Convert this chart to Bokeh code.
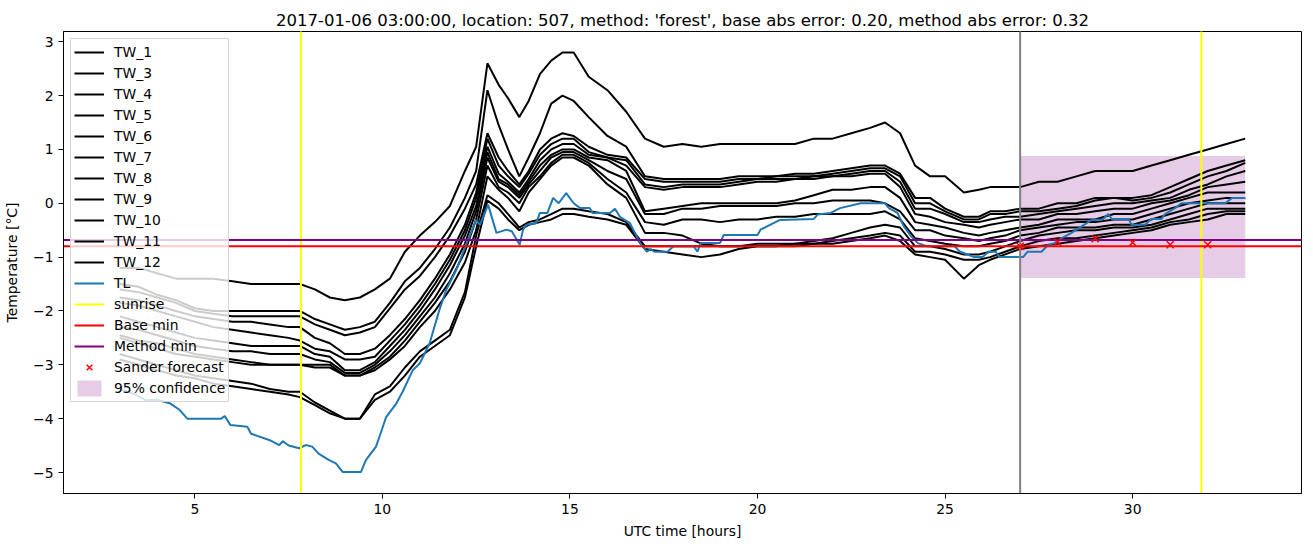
from bokeh.plotting import figure
from bokeh.models import Range1d, FixedTicker, Legend, LegendItem
from bokeh.embed import file_html
from bokeh.resources import INLINE

TITLE = "2017-01-06 03:00:00, location: 507, method: 'forest', base abs error: 0.20, method abs error: 0.32"

hours = [3, 3.5, 4, 4.5, 5, 5.5, 6, 6.5, 7, 7.5,
         7.8, 8.2, 8.6, 9, 9.4, 9.8, 10.2, 10.6, 11, 11.4,
         11.8, 12.2, 12.5, 12.8, 13.1, 13.35, 13.65, 13.9, 14.2, 14.5,
         14.8, 15.1, 15.5, 16, 16.5, 17, 17.5, 18, 18.5, 19,
         19.5, 20, 20.5, 21, 21.5, 22, 22.5, 23, 23.4, 23.8,
         24.2, 24.6, 25, 25.5, 25.9, 26.2, 26.6, 27, 27.5, 28,
         28.5, 29, 29.5, 30, 30.5, 31, 31.5, 32, 32.5, 33]

TW_1 = [-1.2, -1.2, -1.3, -1.4, -1.4, -1.4, -1.45, -1.5, -1.5, -1.5,
        -1.5, -1.6, -1.75, -1.8, -1.75, -1.6, -1.4, -0.9, -0.6, -0.35,
        -0.05, 0.6, 1.05, 2.6, 2.2, 1.95, 1.6, 1.9, 2.4, 2.65,
        2.8, 2.8, 2.35, 2.1, 1.7, 1.2, 1.05, 1.1, 1.05, 1.1,
        1.1, 1.1, 1.1, 1.1, 1.2, 1.2, 1.3, 1.4, 1.5, 1.3,
        0.7, 0.5, 0.5, 0.2, 0.25, 0.3, 0.3, 0.3, 0.4, 0.4,
        0.5, 0.6, 0.6, 0.6, 0.7, 0.8, 0.9, 1.0, 1.1, 1.2]
TW_3 = [-1.5, -1.55, -1.7, -1.8, -1.95, -2.0, -2.0, -2.0, -2.0, -2.0,
        -2.0, -2.15, -2.25, -2.35, -2.3, -2.2, -1.85, -1.45, -1.2, -0.85,
        -0.45, 0.1, 0.6, 2.1, 1.45, 1.0, 0.5, 0.85, 1.3, 1.85,
        2.0, 1.9, 1.6, 1.25, 1.05, 0.5, 0.45, 0.45, 0.45, 0.45,
        0.5, 0.5, 0.5, 0.55, 0.55, 0.6, 0.65, 0.7, 0.7, 0.55,
        0.1, 0.1, -0.1, -0.25, -0.25, -0.15, -0.15, -0.1, -0.1, 0.0,
        0.0, 0.1, 0.1, 0.1, 0.15, 0.3, 0.45, 0.6, 0.7, 0.8]
TW_4 = [-1.6, -1.65, -1.75, -1.85, -2.0, -2.05, -2.1, -2.1, -2.1, -2.1,
        -2.1, -2.25, -2.35, -2.45, -2.4, -2.3, -1.95, -1.6, -1.35, -1.0,
        -0.6, -0.1, 0.35, 1.3, 0.85, 0.6, 0.35, 0.6, 1.0, 1.2,
        1.3, 1.25, 1.05, 0.9, 0.85, 0.45, 0.4, 0.4, 0.4, 0.4,
        0.45, 0.45, 0.5, 0.5, 0.5, 0.55, 0.6, 0.65, 0.65, 0.5,
        0.0, 0.0, -0.15, -0.3, -0.3, -0.2, -0.2, -0.15, -0.15, -0.1,
        -0.05, 0.05, 0.1, 0.05, 0.1, 0.2, 0.35, 0.5, 0.6, 0.75]
TW_5 = [-1.75, -1.8, -1.9, -2.0, -2.1, -2.15, -2.2, -2.2, -2.25, -2.3,
        -2.3, -2.5, -2.6, -2.8, -2.8, -2.7, -2.45, -2.15, -1.8, -1.4,
        -0.95, -0.4, 0.2, 1.2, 0.7, 0.5, 0.3, 0.55, 0.9, 1.1,
        1.2, 1.2, 0.95, 0.85, 0.8, 0.35, 0.3, 0.35, 0.35, 0.35,
        0.4, 0.45, 0.45, 0.45, 0.5, 0.5, 0.55, 0.6, 0.6, 0.4,
        -0.1, -0.1, -0.2, -0.35, -0.35, -0.3, -0.25, -0.25, -0.2, -0.15,
        -0.1, -0.05, 0.0, 0.0, 0.05, 0.1, 0.25, 0.35, 0.5, 0.6]
TW_6 = [-1.85, -1.9, -2.0, -2.1, -2.2, -2.3, -2.35, -2.4, -2.45, -2.5,
        -2.55, -2.7, -2.75, -2.9, -2.9, -2.85, -2.55, -2.25, -1.9, -1.5,
        -1.05, -0.5, 0.1, 1.05, 0.55, 0.4, 0.2, 0.45, 0.8, 1.0,
        1.1, 1.1, 0.9, 0.85, 0.7, 0.3, 0.25, 0.3, 0.3, 0.3,
        0.35, 0.4, 0.4, 0.45, 0.45, 0.5, 0.5, 0.55, 0.55, 0.3,
        -0.2, -0.25, -0.35, -0.4, -0.45, -0.4, -0.35, -0.3, -0.3, -0.2,
        -0.2, -0.15, -0.1, -0.1, 0.0, 0.05, 0.15, 0.3, 0.35, 0.4]
TW_7 = [-2.1, -2.2, -2.3, -2.4, -2.5, -2.55, -2.6, -2.65, -2.65, -2.65,
        -2.65, -2.8, -2.85, -3.1, -3.1, -2.95, -2.65, -2.35, -2.0, -1.6,
        -1.15, -0.6, -0.05, 0.95, 0.45, 0.35, 0.15, 0.4, 0.7, 0.9,
        1.0, 1.0, 0.85, 0.8, 0.6, -0.15, -0.1, -0.05, 0.0, 0.0,
        0.0, 0.0, 0.0, 0.05, 0.15, 0.25, 0.25, 0.3, 0.3, 0.1,
        -0.35, -0.4, -0.45, -0.55, -0.6, -0.55, -0.5, -0.45, -0.4, -0.3,
        -0.3, -0.3, -0.2, -0.2, -0.1, 0.0, 0.1, 0.2, 0.2, 0.2]
TW_8 = [-2.3, -2.35, -2.45, -2.55, -2.65, -2.7, -2.75, -2.75, -2.8, -2.8,
        -2.8, -2.9, -2.95, -3.15, -3.15, -3.0, -2.75, -2.45, -2.1, -1.75,
        -1.3, -0.75, -0.15, 0.85, 0.4, 0.3, 0.1, 0.35, 0.6, 0.85,
        0.95, 0.95, 0.8, 0.6, 0.45, -0.2, -0.2, -0.1, -0.1, -0.05,
        -0.05, -0.05, -0.05, 0.0, 0.0, 0.05, 0.05, 0.05, 0.0, -0.15,
        -0.5, -0.5, -0.6, -0.65, -0.7, -0.65, -0.6, -0.5, -0.45, -0.4,
        -0.35, -0.35, -0.3, -0.3, -0.2, -0.1, 0.0, 0.05, 0.1, 0.1]
TW_9 = [-2.45, -2.55, -2.6, -2.7, -2.8, -2.85, -2.9, -2.95, -3.0, -3.0,
        -3.0, -3.0, -3.0, -3.2, -3.2, -3.05, -2.85, -2.55, -2.2, -1.85,
        -1.45, -0.9, -0.3, 0.7, 0.3, 0.2, 0.0, 0.3, 0.5, 0.75,
        0.9, 0.9, 0.75, 0.45, 0.2, -0.35, -0.4, -0.3, -0.3, -0.35,
        -0.3, -0.3, -0.25, -0.25, -0.2, -0.2, -0.2, -0.2, -0.15, -0.3,
        -0.65, -0.7, -0.75, -0.8, -0.8, -0.75, -0.7, -0.6, -0.55, -0.45,
        -0.45, -0.45, -0.4, -0.4, -0.3, -0.2, -0.1, 0.0, 0.0, 0.0]
TW_10 = [-2.5, -2.6, -2.7, -2.8, -2.85, -2.9, -2.95, -3.0, -3.0, -3.0,
         -3.0, -3.05, -3.05, -3.2, -3.2, -3.1, -2.9, -2.65, -2.3, -2.0,
         -1.6, -1.1, -0.5, 0.5, 0.25, 0.1, -0.15, 0.2, 0.45, 0.7,
         0.85, 0.85, 0.7, 0.35, 0.1, -0.55, -0.55, -0.6, -0.75, -0.8,
         -0.8, -0.75, -0.75, -0.75, -0.7, -0.65, -0.55, -0.45, -0.4, -0.45,
         -0.8, -0.8, -0.85, -0.95, -0.95, -0.9, -0.8, -0.7, -0.6, -0.55,
         -0.5, -0.5, -0.45, -0.45, -0.4, -0.3, -0.2, -0.1, -0.1, -0.1]
TW_11 = [-2.8, -2.9, -3.0, -3.1, -3.2, -3.25, -3.3, -3.35, -3.45, -3.5,
         -3.5, -3.7, -3.85, -4.0, -4.0, -3.55, -3.4, -3.05, -2.75, -2.55,
         -2.35, -1.65, -0.6, 0.15, 0.0, -0.2, -0.45, -0.35, -0.3, -0.2,
         -0.1, -0.1, -0.15, -0.2, -0.35, -0.8, -0.8, -0.8, -0.8, -0.8,
         -0.8, -0.8, -0.8, -0.75, -0.75, -0.7, -0.65, -0.6, -0.55, -0.6,
         -0.9, -0.9, -0.95, -1.05, -1.05, -1.0, -0.9, -0.8, -0.7, -0.65,
         -0.65, -0.6, -0.55, -0.5, -0.45, -0.35, -0.3, -0.2, -0.15, -0.15]
TW_12 = [-2.9, -3.0, -3.1, -3.2, -3.25, -3.35, -3.4, -3.45, -3.5, -3.55,
         -3.6, -3.75, -3.9, -4.0, -4.0, -3.65, -3.5, -3.2, -2.85, -2.65,
         -2.45, -1.75, -0.8, 0.05, -0.1, -0.3, -0.5, -0.4, -0.35, -0.3,
         -0.2, -0.2, -0.25, -0.3, -0.4, -0.85, -0.9, -0.95, -1.0, -0.95,
         -0.85, -0.8, -0.8, -0.8, -0.75, -0.75, -0.7, -0.65, -0.6, -0.7,
         -0.95, -1.0, -1.05, -1.4, -1.15, -1.05, -0.95, -0.85, -0.8, -0.75,
         -0.7, -0.65, -0.6, -0.55, -0.5, -0.4, -0.35, -0.3, -0.2, -0.2]

tw_names = ["TW_1", "TW_3", "TW_4", "TW_5", "TW_6", "TW_7", "TW_8",
            "TW_9", "TW_10", "TW_11", "TW_12"]
tw_series = [TW_1, TW_3, TW_4, TW_5, TW_6, TW_7, TW_8, TW_9, TW_10, TW_11, TW_12]

tl_hours = [3.0, 3.4, 3.7, 4.0, 4.35, 4.6, 4.8, 5.7, 5.8, 5.95,
            6.4, 6.5, 7.0, 7.25, 7.35, 7.5, 7.78, 7.96, 8.13, 8.3,
            8.58, 8.76, 8.94, 9.43, 9.56, 9.83, 9.92, 10.1, 10.37, 10.54,
            10.81, 11.0, 11.26, 11.52, 11.7, 11.97, 12.24, 12.5, 12.6, 12.82,
            13.04, 13.31, 13.45, 13.66, 13.75, 13.84, 14.1, 14.2, 14.4, 14.55,
            14.7, 14.9, 15.1, 15.27, 15.53, 15.6, 16.07, 16.2, 16.33, 16.6,
            16.87, 17.05, 17.15, 17.25, 17.6, 17.76, 18.3, 18.4, 18.48, 19.0,
            19.1, 20.0, 20.08, 20.6, 21.5, 21.6, 21.95, 22.2, 22.75, 23.4,
            23.5, 23.73, 23.9, 24.1, 24.27, 24.54, 25.25, 25.4, 25.78, 26.0,
            26.15, 26.35, 26.45, 27.08, 27.2, 27.57, 27.75, 27.92, 28.1, 28.37,
            28.64, 28.9, 29.2, 29.35, 29.44, 29.89, 29.97, 30.33, 30.5, 30.77,
            30.86, 31.13, 31.3, 32.47, 32.65, 33.0]
tl_values = [-3.45, -3.55, -3.66, -3.65, -3.72, -3.84, -4.0, -4.0, -3.95, -4.12,
             -4.15, -4.28, -4.4, -4.49, -4.42, -4.5, -4.55, -4.49, -4.52, -4.65,
             -4.77, -4.83, -4.99, -4.99, -4.77, -4.52, -4.34, -3.97, -3.72, -3.5,
             -3.1, -2.97, -2.6, -1.98, -1.61, -1.24, -0.75, -0.31, -0.4, -0.03,
             -0.55, -0.49, -0.52, -0.77, -0.49, -0.4, -0.37, -0.18, -0.18, 0.1,
             0.0, 0.19, 0.0, -0.09, -0.09, -0.18, -0.18, -0.1, -0.25, -0.37,
             -0.74, -0.9, -0.85, -0.9, -0.9, -0.8, -0.8, -0.9, -0.74, -0.74,
             -0.59, -0.59, -0.49, -0.31, -0.29, -0.21, -0.18, -0.09, 0.0, 0.0,
             -0.09, -0.18, -0.43, -0.62, -0.74, -0.8, -0.8, -0.9, -1.0, -1.0,
             -0.9, -0.9, -1.0, -1.0, -0.9, -0.9, -0.77, -0.74, -0.65, -0.55,
             -0.43, -0.31, -0.3, -0.2, -0.29, -0.29, -0.4, -0.4, -0.29, -0.29,
             -0.2, -0.09, 0.0, 0.0, 0.1, 0.1]

sunrise_hours = [7.83, 31.83]
forecast_start = 27.0
base_min = -0.8
method_min = -0.68
sander_hours = [27, 28, 29, 30, 31, 32]
sander_values = [-0.8, -0.72, -0.66, -0.73, -0.77, -0.77]
conf_start = [27.0]
conf_end = [33.0]
conf_low = [-1.39]
conf_high = [0.88]

x_ticks = [5, 10, 15, 20, 25, 30]
y_ticks = [-5, -4, -3, -2, -1, 0, 1, 2, 3]

FONT = "DejaVu Sans"

p = figure(frame_width=1238, frame_height=462,
           x_range=Range1d(1.5, 34.5), y_range=Range1d(-5.39, 3.19),
           output_backend="svg", toolbar_location=None, title=TITLE,
           min_border_left=63, min_border_right=2, min_border_top=31,
           min_border_bottom=45)
p.title.align = "center"
p.title.text_font = FONT
p.title.text_font_size = "16.5px"
p.title.text_font_style = "normal"
p.title.text_color = "black"
p.title.standoff = 4
p.grid.visible = False
p.outline_line_color = "black"
p.outline_line_width = 1
p.outline_line_alpha = 1
p.background_fill_color = "white"

for ax in (p.xaxis, p.yaxis):
    ax.major_label_text_font = FONT
    ax.major_label_text_font_size = "13.9px"
    ax.major_label_text_color = "black"
    ax.axis_label_text_font = FONT
    ax.axis_label_text_font_size = "13.9px"
    ax.axis_label_text_font_style = "normal"
    ax.axis_label_text_color = "black"
    ax.minor_tick_line_color = None
    ax.major_tick_in = 0
    ax.major_tick_out = 5
    ax.major_tick_line_color = "black"
    ax.axis_line_color = "black"

p.xaxis.ticker = FixedTicker(ticks=x_ticks)
p.yaxis.ticker = FixedTicker(ticks=y_ticks)
p.yaxis.major_label_overrides = {v: str(v).replace("-", "\u2212") for v in y_ticks}
p.xaxis.axis_label = "UTC time [hours]"
p.yaxis.axis_label = "Temperature [\u00b0C]"
p.xaxis.axis_label_standoff = 6
p.yaxis.axis_label_standoff = 10

band = p.quad(left=conf_start, right=conf_end, bottom=conf_low, top=conf_high,
              fill_color="purple", fill_alpha=0.2, line_color=None)

items = []
for name, vals in zip(tw_names, tw_series):
    r = p.line(hours, vals, line_color="black", line_width=2)
    items.append(LegendItem(label=name, renderers=[r]))

r_tl = p.line(tl_hours, tl_values, line_color="#1f77b4", line_width=2)
items.append(LegendItem(label="TL", renderers=[r_tl]))

r_sun = p.segment(x0=sunrise_hours, y0=[-10] * len(sunrise_hours),
                  x1=sunrise_hours, y1=[10] * len(sunrise_hours),
                  line_color="#ffff00", line_width=2)
items.append(LegendItem(label="sunrise", renderers=[r_sun]))

r_base = p.segment(x0=[-10], y0=[base_min], x1=[50], y1=[base_min],
                   line_color="red", line_width=2)
items.append(LegendItem(label="Base min", renderers=[r_base]))

r_meth = p.segment(x0=[-10], y0=[method_min], x1=[50], y1=[method_min],
                   line_color="purple", line_width=2)
items.append(LegendItem(label="Method min", renderers=[r_meth]))

p.segment(x0=[forecast_start], y0=[-10], x1=[forecast_start], y1=[10],
          line_color="gray", line_width=2)

r_sander = p.scatter(sander_hours, sander_values, marker="x", size=10,
                     line_color="red", line_width=1.5)
items.append(LegendItem(label="Sander forecast", renderers=[r_sander]))
items.append(LegendItem(label="95% confidence", renderers=[band]))

legend = Legend(items=items, location="top_left", margin=7, padding=3,
                spacing=1, label_height=20, glyph_height=20, glyph_width=30,
                label_standoff=10, label_text_font=FONT,
                label_text_font_size="13.9px", label_text_color="black",
                background_fill_alpha=0.8, border_line_color="#cccccc",
                border_line_alpha=0.8)
p.add_layout(legend)

open("out.html", "w").write(file_html(p, INLINE))
